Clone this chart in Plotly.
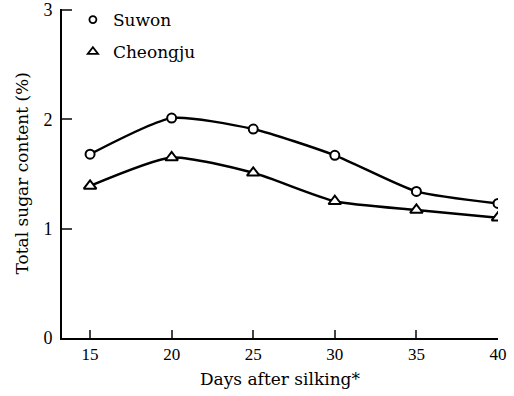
import plotly.graph_objects as go

days = [15, 20, 25, 30, 35, 40]
suwon = [1.68, 2.01, 1.91, 1.67, 1.34, 1.23]
cheongju = [1.39, 1.65, 1.51, 1.25, 1.17, 1.10]
x_ticks = [15, 20, 25, 30, 35, 40]
y_ticks = [0, 1, 2, 3]

font = "Liberation Serif, Times New Roman, serif"
wide = "DejaVu Serif, serif"
fig = go.Figure()
series = [("Suwon", suwon, "circle", 9, 7), ("Cheongju", cheongju, "triangle-up", 11, 9)]
for name, vals, sym, msize, lsize in series:
    fig.add_trace(go.Scatter(
        x=days, y=vals, mode="lines+markers", name=name, showlegend=False,
        line=dict(color="black", width=2.5, shape="spline", smoothing=0.6),
        marker=dict(symbol=sym, size=msize, color="white", line=dict(color="black", width=2)),
    ))
for name, vals, sym, msize, lsize in series:
    fig.add_trace(go.Scatter(
        x=[None], y=[None], mode="markers", name=name, legendgroup=name,
        marker=dict(symbol=sym, size=lsize, color="white", line=dict(color="black", width=1.8)),
    ))

fig.update_layout(
    width=514, height=396,
    margin=dict(l=62, r=16, t=2, b=58),
    paper_bgcolor="white", plot_bgcolor="white",
    font=dict(family=font, size=16, color="black"),
    showlegend=True,
    legend=dict(x=0.025, y=1.0, xanchor="left", yanchor="top",
                bgcolor="rgba(0,0,0,0)",
                font=dict(size=17, family=wide), itemwidth=30, traceorder="grouped", tracegroupgap=7),
    xaxis=dict(range=[13.28, 40], tickvals=x_ticks, ticks="inside", ticklen=8, tickwidth=1.5,
               showline=True, linecolor="black", linewidth=2, showgrid=False, zeroline=False,
               automargin=False, tickfont=dict(size=17),
               title=dict(text="Days after silking*", font=dict(size=17, family=wide), standoff=10)),
    yaxis=dict(range=[0, 3.01], domain=[0, 0.98], tickvals=y_ticks, ticks="inside", ticklen=10,
               tickwidth=1.5, showline=True, linecolor="black", linewidth=2, showgrid=False,
               zeroline=False, automargin=False, tickfont=dict(size=18), ticklabelstandoff=4,
               title=dict(text="Total sugar content (%)", font=dict(size=17, family=wide), standoff=10)),
)
fig.write_html("out.html", config={"displayModeBar": False},
               post_script="document.body.style.margin='0';")
